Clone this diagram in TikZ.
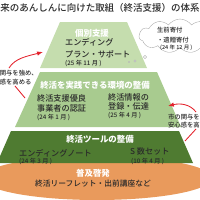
\documentclass[tikz,border=0pt]{standalone}
\usepackage{fontspec}
\setmainfont{Noto Sans CJK JP}
\newfontfamily\medfont{Noto Sans CJK JP Medium}
\usepackage{tikz}
\usetikzlibrary{arrows.meta,shapes.symbols}
\definecolor{paleg}{HTML}{C5DDAE}
\definecolor{midg}{HTML}{A8CB8F}
\definecolor{darkg}{HTML}{4F7B31}
\definecolor{orng}{HTML}{E99A5C}
\definecolor{redarr}{HTML}{E3212B}
\definecolor{txt}{HTML}{2A2A2A}
\tikzset{
  >=Latex,
  head/.style = {text=white, font=\bfseries\fontsize{12}{14}\selectfont, inner sep=0pt},
  body/.style = {text=txt, font=\medfont\fontsize{11.6}{13}\selectfont, anchor=west, inner sep=0pt},
  date/.style = {text=txt, font=\medfont\fontsize{8.8}{10}\selectfont, anchor=west, inner sep=0pt},
  note/.style = {text=txt, font=\medfont\fontsize{9}{10.5}\selectfont, anchor=west, inner sep=0pt},
  redline/.style = {draw=redarr, line width=1.2pt},
  bubble/.style = {circle, draw=gray!70, fill=white, inner sep=0pt, line width=0.5pt}
}

\begin{document}
\begin{tikzpicture}[x=0.05cm, y=-0.05cm]
\useasboundingbox (0,0) rectangle (200,200);

% title
\node[text=txt, font=\medfont\fontsize{13.5}{15}\selectfont, inner sep=0pt] (title) at (100,8) {将来のあんしんに向けた取組（終活支援）の体系図};

% pyramid
\fill[orng] (97,178) ellipse [x radius=115, y radius=22];
\fill[darkg] (11,131) -- (179,131) -- (193,163) -- (-3,163) -- cycle;
\fill[midg] (40,72) -- (157,72) -- (181,127) -- (15,127) -- cycle;
\fill[paleg] (60,22) -- (127,22) -- (147,68) -- (40,68) -- cycle;

% top tier
\node[head] (kobetsu) at (92,33) {個別支援};
\node[body] (plan1) at (65,42) {エンディング};
\node[body] (plan2) at (65,54) {プラン・サポート};
\node[date] (plan3) at (65,63) {(25 年 11 月~)};

% second tier
\node[head] (kankyo) at (95,85) {終活を実践できる環境の整備};
\node[body] (nin1) at (37,98) {終活支援優良};
\node[body] (nin2) at (37,108) {事業者の認証};
\node[date] (nin3) at (37,117) {(24 年 1 月~)};
\node[body] (jo1) at (108,97) {終活情報の};
\node[body] (jo2) at (108,106) {登録・伝達};
\node[date] (jo3) at (108,115) {(25 年 4 月~)};

% third tier
\node[head] (tool) at (100,139) {終活ツールの整備};
\node[body] (note1) at (19,153) {エンディングノート};
\node[date] (note2) at (19,161) {(24 年 3 月~)};
\node[body] (set1) at (130,151) {S 数セット};
\node[date] (set2) at (131,161) {(10 年 4 月~)};

% base
\node[head] (fukyu) at (93,173) {普及啓発};
\node[text=txt, font=\medfont\fontsize{11}{12}\selectfont, inner sep=0pt] (leaf) at (93,184) {終活リーフレット・出前講座など};

% thought bubble
\node[cloud, cloud puffs=11, cloud puff arc=110, aspect=2.3, draw=gray!70, fill=white, line width=0.5pt,
      minimum width=4.1cm, minimum height=1.7cm] (cloud) at (180,36) {};
\node[note] (kifu1) at (157,30) {生前寄付};
\node[note] (kifu2) at (157,40) {・遺贈寄付};
\node[date, font=\medfont\fontsize{7.8}{9}\selectfont] (kifu3) at (160,48) {(24 年 12 月~)};
\node[bubble, minimum size=2pt] (b1) at (129,62) {};
\node[bubble, minimum size=3pt] (b2) at (135,61) {};
\node[bubble, minimum size=4.5pt] (b3) at (145,57) {};

% side notes
\node[note] (lnote1) at (-13,73) {市の関与を強め、};
\node[note] (lnote2) at (-13,82) {安心感を高める};
\node[note] (rnote1) at (168,117) {市の関与を強め、};
\node[note] (rnote2) at (168,125) {安心感を高める};

% red arrows
\coordinate (la0) at (9,68);
\coordinate (la1) at (43,52);
\coordinate (lb0) at (15,86);
\coordinate (lb1) at (25,98);
\coordinate (ra0) at (196,112);
\coordinate (ra1) at (168,106);
\coordinate (rb0) at (185,141);
\coordinate (rb1) at (196,129);
\draw[redline, ->] (la0) .. controls (15,58) and (28,56) .. (la1);
\draw[redline] (lb0) -- (lb1);
\draw[redline, ->] (ra0) .. controls (190,104) and (180,103) .. (ra1);
\draw[redline] (rb0) -- (rb1);
\end{tikzpicture}
\end{document}
